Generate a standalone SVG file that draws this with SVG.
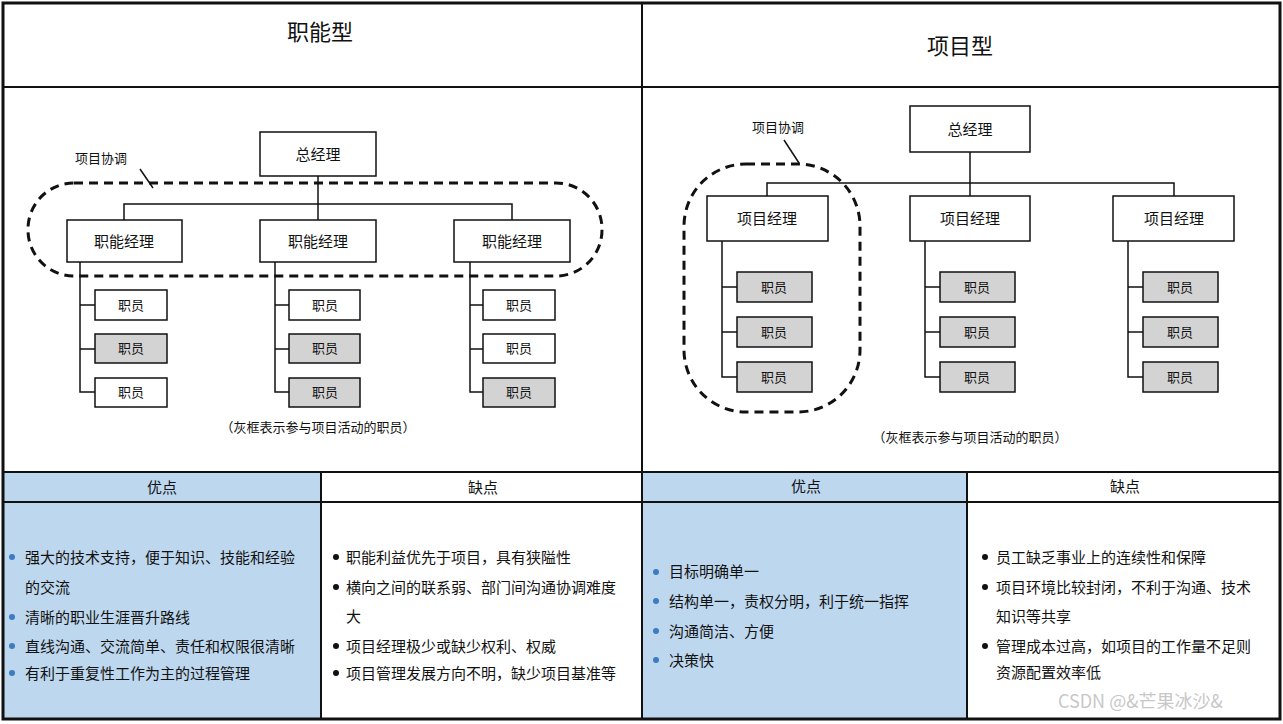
<svg xmlns="http://www.w3.org/2000/svg" width="1283" height="724" viewBox="0 0 1283 724">
<style>
text{font-family:"Noto Sans CJK SC","Liberation Sans",sans-serif;fill:#111}
.b{fill:#fff;stroke:#111;stroke-width:1.5}
.g{fill:#d3d3d3;stroke:#111;stroke-width:1.5}
.l{fill:none;stroke:#111;stroke-width:1.5}
.d{fill:none;stroke:#111;stroke-width:3;stroke-dasharray:9,6}
.t{font-size:15px;text-anchor:middle}
.s{font-size:13px;text-anchor:middle}
.p{font-size:15px}
.bu{fill:#3d7cc0}
.bk{fill:#111}
</style>
<rect x="0" y="0" width="1283" height="724" fill="#fff"/>
<g id="frame">
<rect x="320" y="472" width="322" height="248" fill="#fff"/>
<rect x="3" y="472" width="318" height="248" fill="#bdd7ee"/>
<rect x="642" y="472" width="325" height="248" fill="#bdd7ee"/>
<rect x="3" y="3" width="1277" height="716" fill="none" stroke="#111" stroke-width="3"/>
<line x1="3" y1="87" x2="1280" y2="87" stroke="#111" stroke-width="2"/>
<line x1="642" y1="3" x2="642" y2="719" stroke="#111" stroke-width="2"/>
<line x1="3" y1="472" x2="1280" y2="472" stroke="#111" stroke-width="2"/>
<line x1="3" y1="502" x2="1280" y2="502" stroke="#111" stroke-width="2"/>
<line x1="321" y1="472" x2="321" y2="719" stroke="#111" stroke-width="2"/>
<line x1="967" y1="472" x2="967" y2="719" stroke="#111" stroke-width="2"/>
<text x="320" y="40" font-size="22" text-anchor="middle">职能型</text>
<text x="960" y="54" font-size="22" text-anchor="middle">项目型</text>
<text class="t" x="162" y="493">优点</text>
<text class="t" x="483" y="493">缺点</text>
<text class="t" x="806" y="492">优点</text>
<text class="t" x="1125" y="492">缺点</text>
</g>
<g id="connectors">
<line class="l" x1="318" y1="176" x2="318" y2="220"/>
<polyline class="l" points="124,220 124,204 512,204 512,220"/>
<polyline class="l" points="95,305 80,305 80,262 80,392 95,392"/><line class="l" x1="80" y1="349" x2="95" y2="349"/>
<polyline class="l" points="289,305 275,305 275,262 275,392 289,392"/><line class="l" x1="275" y1="349" x2="289" y2="349"/>
<polyline class="l" points="483,305 470,305 470,262 470,392 483,392"/><line class="l" x1="470" y1="349" x2="483" y2="349"/>
<rect class="d" x="28" y="183" width="574" height="93" rx="46"/>
<line class="l" x1="140" y1="169" x2="153" y2="188"/>
<line class="l" x1="970" y1="152" x2="970" y2="196"/>
<polyline class="l" points="767,196 767,183 1174,183 1174,196"/>
<polyline class="l" points="737,287 722,287 722,241 722,377 737,377"/><line class="l" x1="722" y1="332" x2="737" y2="332"/>
<polyline class="l" points="940,287 925,287 925,241 925,377 940,377"/><line class="l" x1="925" y1="332" x2="940" y2="332"/>
<polyline class="l" points="1143,287 1128,287 1128,241 1128,377 1143,377"/><line class="l" x1="1128" y1="332" x2="1143" y2="332"/>
<rect class="d" x="684" y="164" width="176" height="248" rx="62"/>
<line class="l" x1="784" y1="140" x2="799" y2="163"/>
</g>
<g id="left-nodes">
<g id="gm1"><rect class="b" x="260" y="132" width="116" height="44"/><text class="t" x="318" y="160">总经理</text></g>
<g id="fm1"><rect class="b" x="67" y="220" width="115" height="42"/><text class="t" x="124" y="247">职能经理</text></g>
<g id="fm2"><rect class="b" x="260" y="220" width="116" height="42"/><text class="t" x="318" y="247">职能经理</text></g>
<g id="fm3"><rect class="b" x="454" y="220" width="116" height="42"/><text class="t" x="512" y="247">职能经理</text></g>
<g id="e11"><rect class="b" x="95" y="290" width="72" height="30"/><text class="s" x="131" y="310">职员</text></g>
<g id="e12"><rect class="g" x="95" y="334" width="72" height="29"/><text class="s" x="131" y="353">职员</text></g>
<g id="e13"><rect class="b" x="95" y="378" width="72" height="29"/><text class="s" x="131" y="397">职员</text></g>
<g id="e21"><rect class="b" x="289" y="290" width="71" height="30"/><text class="s" x="325" y="310">职员</text></g>
<g id="e22"><rect class="g" x="289" y="334" width="71" height="29"/><text class="s" x="325" y="353">职员</text></g>
<g id="e23"><rect class="g" x="289" y="378" width="71" height="29"/><text class="s" x="325" y="397">职员</text></g>
<g id="e31"><rect class="b" x="483" y="290" width="72" height="30"/><text class="s" x="519" y="310">职员</text></g>
<g id="e32"><rect class="b" x="483" y="334" width="72" height="29"/><text class="s" x="519" y="353">职员</text></g>
<g id="e33"><rect class="g" x="483" y="378" width="72" height="29"/><text class="s" x="519" y="397">职员</text></g>
<text x="75" y="163" font-size="13">项目协调</text>
<text class="s" x="318" y="432">（灰框表示参与项目活动的职员）</text>
</g>
<g id="right-nodes">
<g id="gm2"><rect class="b" x="910" y="106" width="120" height="46"/><text class="t" x="970" y="135">总经理</text></g>
<g id="pm1"><rect class="b" x="707" y="196" width="121" height="45"/><text class="t" x="767" y="224">项目经理</text></g>
<g id="pm2"><rect class="b" x="910" y="196" width="120" height="45"/><text class="t" x="970" y="224">项目经理</text></g>
<g id="pm3"><rect class="b" x="1113" y="196" width="121" height="45"/><text class="t" x="1174" y="224">项目经理</text></g>
<g><rect class="g" x="737" y="272" width="75" height="30"/><text class="s" x="774" y="292">职员</text></g>
<g><rect class="g" x="737" y="317" width="75" height="30"/><text class="s" x="774" y="337">职员</text></g>
<g><rect class="g" x="737" y="362" width="75" height="30"/><text class="s" x="774" y="382">职员</text></g>
<g><rect class="g" x="940" y="272" width="75" height="30"/><text class="s" x="977" y="292">职员</text></g>
<g><rect class="g" x="940" y="317" width="75" height="30"/><text class="s" x="977" y="337">职员</text></g>
<g><rect class="g" x="940" y="362" width="75" height="30"/><text class="s" x="977" y="382">职员</text></g>
<g><rect class="g" x="1143" y="272" width="75" height="30"/><text class="s" x="1180" y="292">职员</text></g>
<g><rect class="g" x="1143" y="317" width="75" height="30"/><text class="s" x="1180" y="337">职员</text></g>
<g><rect class="g" x="1143" y="362" width="75" height="30"/><text class="s" x="1180" y="382">职员</text></g>
<text x="752" y="132" font-size="13">项目协调</text>
<text class="s" x="970" y="442">（灰框表示参与项目活动的职员）</text>
</g>
<g id="lists">
<circle class="bu" cx="12" cy="557" r="3"/><text class="p" x="25" y="563">强大的技术支持，便于知识、技能和经验</text>
<text class="p" x="25" y="593">的交流</text>
<circle class="bu" cx="12" cy="617" r="3"/><text class="p" x="25" y="623">清晰的职业生涯晋升路线</text>
<circle class="bu" cx="12" cy="646" r="3"/><text class="p" x="25" y="652">直线沟通、交流简单、责任和权限很清晰</text>
<circle class="bu" cx="12" cy="673" r="3"/><text class="p" x="25" y="679">有利于重复性工作为主的过程管理</text>
<circle class="bk" cx="336" cy="557" r="3"/><text class="p" x="346" y="563">职能利益优先于项目，具有狭隘性</text>
<circle class="bk" cx="336" cy="587" r="3"/><text class="p" x="346" y="593">横向之间的联系弱、部门间沟通协调难度</text>
<text class="p" x="346" y="622">大</text>
<circle class="bk" cx="336" cy="646" r="3"/><text class="p" x="346" y="652">项目经理极少或缺少权利、权威</text>
<circle class="bk" cx="336" cy="673" r="3"/><text class="p" x="346" y="679">项目管理发展方向不明，缺少项目基准等</text>
<circle class="bu" cx="656" cy="572" r="3"/><text class="p" x="669" y="577">目标明确单一</text>
<circle class="bu" cx="656" cy="601" r="3"/><text class="p" x="669" y="607">结构单一，责权分明，利于统一指挥</text>
<circle class="bu" cx="656" cy="631" r="3"/><text class="p" x="669" y="637">沟通简洁、方便</text>
<circle class="bu" cx="656" cy="660" r="3"/><text class="p" x="669" y="666">决策快</text>
<circle class="bk" cx="985" cy="557" r="3"/><text class="p" x="996" y="563">员工缺乏事业上的连续性和保障</text>
<circle class="bk" cx="985" cy="587" r="3"/><text class="p" x="996" y="593">项目环境比较封闭，不利于沟通、技术</text>
<text class="p" x="996" y="622">知识等共享</text>
<circle class="bk" cx="985" cy="646" r="3"/><text class="p" x="996" y="652">管理成本过高，如项目的工作量不足则</text>
<text class="p" x="996" y="678">资源配置效率低</text>
<text x="1058" y="708" font-size="18" style="fill:#c8c8c8">CSDN @&amp;芒果冰沙&amp;</text>
</g>
</svg>
